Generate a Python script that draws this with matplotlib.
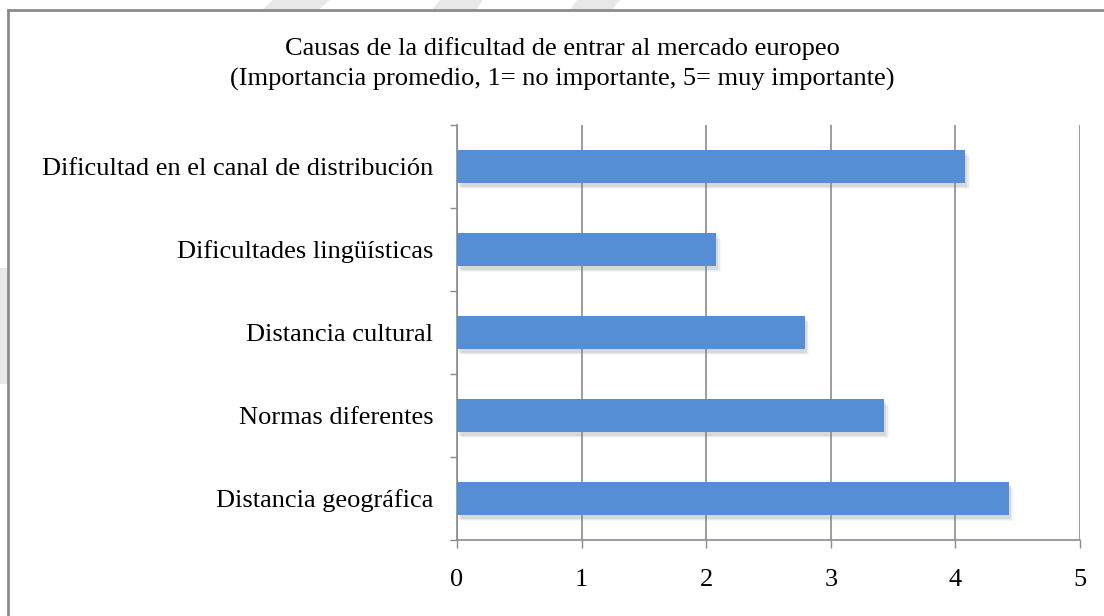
import matplotlib
matplotlib.use('Agg')
import matplotlib.patheffects as pe
from matplotlib import pyplot as plt
from matplotlib.patches import Polygon
from matplotlib.lines import Line2D


W, H = 1104, 616

CAUSES = ['Distancia geográfica',
          'Normas diferentes',
          'Distancia cultural',
          'Dificultades lingüísticas',
          'Dificultad en el canal de distribución']
IMPORTANCE = [4.43, 3.43, 2.79, 2.08, 4.08]
X_TICKS = [0, 1, 2, 3, 4, 5]
TITLE = 'Causas de la dificultad de entrar al mercado europeo\n' \
        '(Importancia promedio, 1= no importante, 5= muy importante)'

BAR_COLOR = '#558ED5'
FRAME_COLOR = '#8C8C8C'
MARK_COLOR = '#E8E8E8'


def px(x, y):
    # pixel position (from the top-left corner) -> figure fraction
    return x / W, 1 - y / H


def draw_background(fig):
    # faint watermark strokes peeking out around the chart frame
    shapes = [
        [(273, 0), (330, 0), (318, 10), (262, 10)],
        [(440, 0), (483, 0), (476, 10), (432, 10)],
        [(577, 0), (620, 0), (612, 10), (570, 10)],
        [(0, 268), (8, 268), (8, 384), (0, 384), (-6, 326)],
    ]
    for pts in shapes:
        fig.add_artist(Polygon([px(*p) for p in pts], closed=True,
                               facecolor=MARK_COLOR, edgecolor='none',
                               transform=fig.transFigure, zorder=0))

    # chart frame, only the top and left edges fall inside the image
    x0, y0 = px(8, 10)
    fig.add_artist(Line2D([x0, 1], [y0, y0], color=FRAME_COLOR, lw=2.0,
                          transform=fig.transFigure))
    fig.add_artist(Line2D([x0, x0], [y0, 0], color=FRAME_COLOR, lw=2.0,
                          transform=fig.transFigure))


def main():
    plt.rcParams['font.family'] = ['Liberation Serif', 'DejaVu Serif']

    fig = plt.figure(figsize=(W / 100, H / 100), dpi=100)
    fig.patch.set_facecolor('white')
    draw_background(fig)

    ax = fig.add_axes([457 / W, 76 / H, 623 / W, 415 / H])
    ax.set_facecolor('none')

    shadow = [pe.SimplePatchShadow(offset=(1.5, -2.5), shadow_rgbFace='#808080', alpha=0.16),
              pe.SimplePatchShadow(offset=(2.5, -3.5), shadow_rgbFace='#808080', alpha=0.11),
              pe.SimplePatchShadow(offset=(3.5, -4.5), shadow_rgbFace='#808080', alpha=0.06),
              pe.Normal()]
    ypos = list(range(len(CAUSES)))
    bars = ax.barh(ypos, IMPORTANCE, height=0.4, color=BAR_COLOR, zorder=3)
    for b in bars:
        b.set_path_effects(shadow)

    ax.set_xlim(0, 5)
    ax.set_ylim(-0.5, len(CAUSES) - 0.5)
    ax.set_xticks(X_TICKS)
    ax.set_xticklabels([str(t) for t in X_TICKS])
    ax.set_yticks(ypos)
    ax.set_yticklabels(CAUSES)
    ax.set_yticks([i - 0.5 for i in range(len(CAUSES) + 1)], minor=True)

    ax.grid(axis='x', color=FRAME_COLOR, lw=1.2, zorder=1)
    ax.set_axisbelow(True)
    for side in ['top', 'right']:
        ax.spines[side].set_visible(False)
    for side in ['left', 'bottom']:
        ax.spines[side].set_color(FRAME_COLOR)
        ax.spines[side].set_linewidth(1.2)

    ax.tick_params(axis='y', which='major', length=0, pad=17, labelsize=19)
    ax.tick_params(axis='y', which='minor', length=5, width=1.0, color=FRAME_COLOR)
    ax.tick_params(axis='x', which='major', length=6, width=1.0, color=FRAME_COLOR,
                   pad=15, labelsize=19)

    fig.text(562 / W, 1 - 64 / H, TITLE, ha='center', va='center',
             fontsize=19, linespacing=1.4)

    fig.savefig('out.png', dpi=100)
    plt.close(fig)


if __name__ == '__main__':
    main()
